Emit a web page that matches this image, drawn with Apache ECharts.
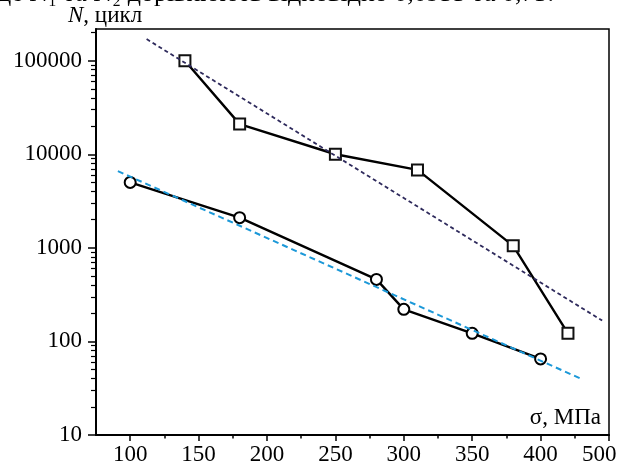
<!DOCTYPE html>
<html><head><meta charset="utf-8">
<script src="https://cdn.jsdelivr.net/npm/echarts@6/dist/echarts.min.js"></script>
<style>html,body{margin:0;padding:0;background:#fff}#c{width:630px;height:469px}</style>
</head><body><div id="c"></div>
<script>
// data
const sigmaSquares = [140, 180, 250, 310, 380, 420];
const cyclesSquares = [100000, 21000, 10000, 6800, 1050, 122];
const sigmaCircles = [100, 180, 280, 300, 350, 400];
const cyclesCircles = [5000, 2100, 460, 220, 122, 65];
const trendDarkSigma = [112, 445];
const trendDarkCycles = [170000, 167];
const trendBlueSigma = [91, 431];
const trendBlueCycles = [6600, 39];
// ticks
const xTickValues = [100, 150, 200, 250, 300, 350, 400, 450];
const xTickLabels = ['100', '150', '200', '250', '300', '350', '400', '500'];
const xMinorTicks = [125, 175, 225, 275, 325, 375, 425];
const yTickValues = [10, 100, 1000, 10000, 100000];
const yTickLabels = ['10', '100', '1000', '10000', '100000'];
const yMinorTicks = [20, 30, 40, 50, 60, 70, 80, 90, 200, 300, 400, 500, 600, 700, 800, 900,
  2000, 3000, 4000, 5000, 6000, 7000, 8000, 9000, 20000, 30000, 40000, 50000, 60000, 70000, 80000, 90000, 200000];
const xName = 'σ, МПа';
const yNameItalic = 'N';
const yNameRest = ', цикл';
const topText = 'де N₁ та N₂ дорівнюють відповідно 0,0955 та 0,73.';

const pairs = (xs, ys) => xs.map((x, i) => [x, ys[i]]);
const FONT = '"Liberation Serif", "DejaVu Serif", serif';

const chart = echarts.init(document.getElementById('c'), null, {renderer: 'canvas'});
chart.setOption({
  animation: false,
  backgroundColor: '#fff',
  grid: {left: 96, right: 21, top: 29, bottom: 34, show: true, borderColor: '#000', borderWidth: 1.5, backgroundColor: 'transparent'},
  xAxis: [{
    type: 'value', min: 75, max: 450, position: 'bottom',
    axisLine: {onZero: false, lineStyle: {color: '#000', width: 2}},
    axisTick: {customValues: xTickValues, length: 6, lineStyle: {color: '#000', width: 1.5}},
    axisLabel: {
      customValues: xTickValues, margin: 8, color: '#000', fontFamily: FONT, fontSize: 23,
      formatter: (v) => {
        const i = xTickValues.indexOf(Math.round(v));
        const t = i >= 0 ? xTickLabels[i] : '';
        return i === xTickValues.length - 1 ? '{last|' + t + '}' : t;
      },
      rich: {last: {fontFamily: FONT, fontSize: 23, color: '#000', width: 54, align: 'left'}}
    },
    splitLine: {show: false}
  }, {
    type: 'value', min: 75, max: 450, position: 'bottom', gridIndex: 0,
    axisLine: {show: false, onZero: false},
    axisTick: {customValues: xMinorTicks, length: 3.5, lineStyle: {color: '#000', width: 1.5}},
    axisLabel: {show: false},
    splitLine: {show: false}
  }],
  yAxis: [{
    type: 'log', logBase: 10, min: 10, max: 218000, position: 'left',
    axisLine: {onZero: false, lineStyle: {color: '#000', width: 2}},
    axisTick: {customValues: yTickValues, length: 8, lineStyle: {color: '#000', width: 1.5}},
    axisLabel: {
      customValues: yTickValues, margin: 14, color: '#000', fontFamily: FONT, fontSize: 23,
      formatter: (v) => yTickLabels[Math.round(Math.log10(v)) - 1]
    },
    splitLine: {show: false}
  }, {
    type: 'log', logBase: 10, min: 10, max: 218000, position: 'left', gridIndex: 0,
    axisLine: {show: false, onZero: false},
    axisTick: {customValues: yMinorTicks, length: 5, lineStyle: {color: '#000', width: 1.2}},
    axisLabel: {show: false},
    splitLine: {show: false}
  }],
  series: [{
    type: 'line', data: pairs(sigmaSquares, cyclesSquares),
    symbol: 'rect', symbolSize: 11, showSymbol: true,
    lineStyle: {color: '#000', width: 2.4},
    itemStyle: {color: '#fff', borderColor: '#111', borderWidth: 2},
    z: 3
  }, {
    type: 'line', data: pairs(sigmaCircles, cyclesCircles),
    symbol: 'circle', symbolSize: 11, showSymbol: true,
    lineStyle: {color: '#000', width: 2.4},
    itemStyle: {color: '#fff', borderColor: '#000', borderWidth: 2},
    z: 3
  }, {
    type: 'line', data: pairs(trendDarkSigma, trendDarkCycles), symbol: 'none',
    lineStyle: {color: '#2e2a5c', width: 1.8, type: [4, 3]}, z: 4
  }, {
    type: 'line', data: pairs(trendBlueSigma, trendBlueCycles), symbol: 'none',
    lineStyle: {color: '#1b98d8', width: 2, type: [6, 4]}, z: 4
  }],
  graphic: [{
    type: 'text', x: -2, y: -19, silent: true,
    style: {text: topText, fill: '#000', font: '26px ' + FONT}
  }, {
    type: 'text', x: 68, y: 4, silent: true,
    style: {
      text: '{i|' + yNameItalic + '}{r|' + yNameRest + '}',
      rich: {
        i: {fontFamily: FONT, fontSize: 23, fontStyle: 'italic', fill: '#000', color: '#000'},
        r: {fontFamily: FONT, fontSize: 23, fill: '#000', color: '#000'}
      }
    }
  }, {
    type: 'text', x: 601, y: 406, silent: true,
    style: {text: xName, fill: '#000', font: '23px ' + FONT, align: 'right'}
  }]
});
</script>
</body></html>
